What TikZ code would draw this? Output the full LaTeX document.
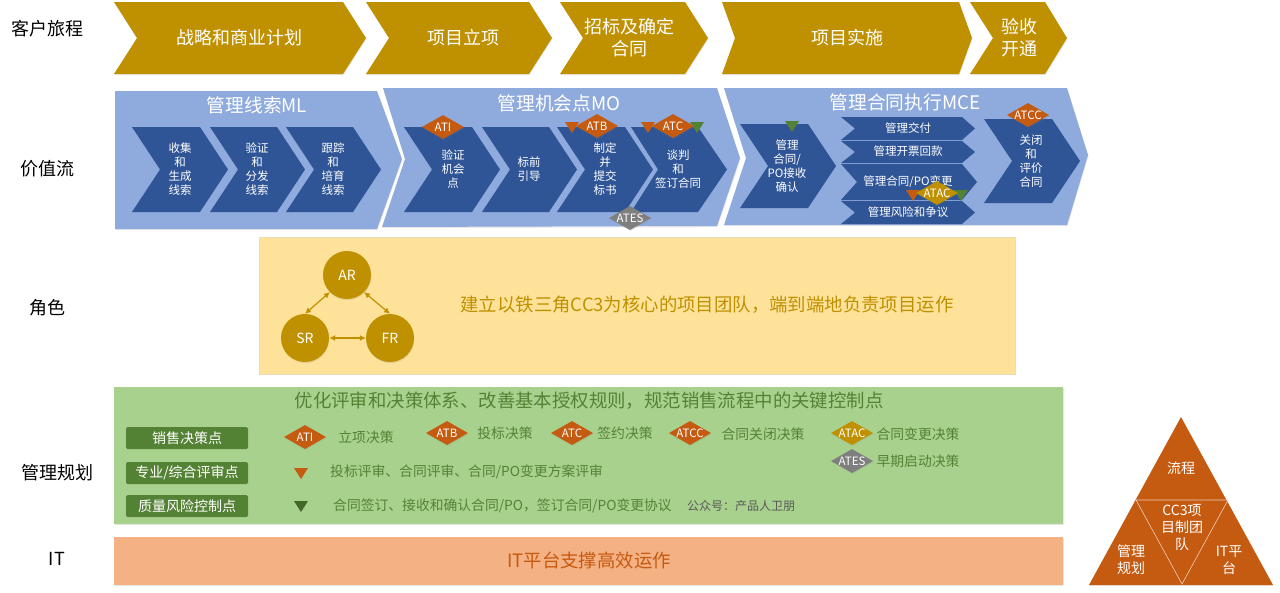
\documentclass[tikz,border=0pt]{standalone}
\usepackage{fontspec}
\setmainfont{Noto Sans CJK SC}
\usetikzlibrary{shapes.geometric,shadows,arrows.meta}

\definecolor{goldc}{HTML}{BF9000}
\definecolor{bannerc}{HTML}{8FAADC}
\definecolor{bluec}{HTML}{2F5597}
\definecolor{orangec}{HTML}{C55A11}
\definecolor{greenc}{HTML}{548235}
\definecolor{grayc}{HTML}{7F7F7F}
\definecolor{rolec}{HTML}{FFE299}
\definecolor{rolelinec}{HTML}{E8DDB8}
\definecolor{mgmtc}{HTML}{A9D18E}
\definecolor{itc}{HTML}{F4B183}

% left, right, top, bottom, depth of the point, notch
\newcommand{\chev}[7]{\fill[#1] (#2,#4) -- (#3-#6,#4) -- (#3,{(#4+#5)/2}) -- (#3-#6,#5) -- (#2,#5) -- (#2+#7,{(#4+#5)/2}) -- cycle;}
\newcommand{\downtri}[3]{\fill[#1] (#2-7,#3) -- (#2+7,#3) -- (#2,#3+11) -- cycle;}

\begin{document}
\begin{tikzpicture}[x=1pt,y=-1pt,
    softshadow/.style={drop shadow={opacity=.18,shadow xshift=.5pt,shadow yshift=-1.2pt}},
    rowlabel/.style={font=\fontsize{18}{22}\selectfont,text=black},
    bigtext/.style={font=\fontsize{18}{22}\selectfont,text=white,align=center},
    bannertext/.style={font=\fontsize{18.7}{22}\selectfont,text=white,align=center},
    smalltext/.style={font=\fontsize{11.5}{14}\selectfont,text=white,align=center,inner sep=0pt},
    gate/.style={diamond,inner sep=0pt,minimum width=42pt,minimum height=24pt,text=white,font=\fontsize{11.5}{14}\selectfont,softshadow},
    role/.style={circle,fill=goldc,minimum size=48pt,inner sep=0pt,text=white,font=\fontsize{14}{16}\selectfont,softshadow},
    legendbox/.style={rectangle,rounded corners=1.5pt,fill=greenc,minimum width=122pt,minimum height=22pt,inner sep=0pt,text=white,font=\fontsize{14}{16}\selectfont},
    legendtext/.style={text=greenc,font=\fontsize{13.8}{16}\selectfont,inner sep=0pt},
    headline/.style={font=\fontsize{18.4}{22}\selectfont},
    pyramidtext/.style={font=\fontsize{14}{17}\selectfont,text=white,align=center},
    rolearrow/.style={goldc,line width=1.2pt,{Latex[length=6pt,width=6pt]}-{Latex[length=6pt,width=6pt]}}]
  \useasboundingbox (0,0) rectangle (1280,592);

  % row labels
  \node[rowlabel] (journey) at (47,29) {客户旅程};
  \node[rowlabel] (stream) at (47,169) {价值流};
  \node[rowlabel] (roles) at (47,308) {角色};
  \node[rowlabel] (mgmt) at (57,473) {管理规划};
  \node[rowlabel] (itlabel) at (57,559) {IT};

  % customer journey
  \chev{goldc,softshadow}{114}{366}{2}{74}{23}{23}
  \chev{goldc,softshadow}{366}{552}{2}{74}{23}{23}
  \chev{goldc,softshadow}{560}{708}{2}{74}{23}{23}
  \chev{goldc,softshadow}{722}{972}{2}{74}{13}{13}
  \chev{goldc,softshadow}{970}{1067}{2}{74}{22}{23}
  \node[bigtext] (plan) at (239,38) {战略和商业计划};
  \node[bigtext] (setup) at (463,38) {项目立项};
  \node[bigtext] (bid) at (629,38) {招标及确定\\合同};
  \node[bigtext] (run) at (847,38) {项目实施};
  \node[bigtext] (accept) at (1019,38) {验收\\开通};

  % value stream banners
  \fill[bannerc,softshadow] (115,91) -- (377,91) -- (402,159) -- (377,229) -- (115,229) -- cycle;
  \fill[bannerc,softshadow] (383,88) -- (717,88) -- (740,158) -- (717,226) -- (382,227) -- (405,159) -- cycle;
  \fill[bannerc,softshadow] (724,88) -- (1067,88) -- (1088,155) -- (1067,225) -- (724,225) -- (746,158) -- cycle;
  \node[bannertext] (ml) at (257,105) {管理线索ML};
  \node[bannertext] (mo) at (559,103) {管理机会点MO};
  \node[bannertext] (mce) at (905,102) {管理合同执行MCE};

  % manage leads
  \chev{bluec}{132}{228}{127}{212}{28}{28}
  \chev{bluec}{210}{305}{127}{212}{28}{28}
  \chev{bluec}{286}{381}{127}{212}{28}{28}
  \node[smalltext] (ml1) at (180,169) {收集\\和\\生成\\线索};
  \node[smalltext] (ml2) at (257,169) {验证\\和\\分发\\线索};
  \node[smalltext] (ml3) at (333,169) {跟踪\\和\\培育\\线索};

  % manage opportunities
  \chev{bluec}{404}{500}{127}{212}{28}{28}
  \chev{bluec}{482}{577}{127}{212}{28}{28}
  \chev{bluec}{557}{653}{127}{212}{28}{28}
  \chev{bluec}{631}{727}{127}{212}{29}{27}
  \node[smalltext] (mo1) at (453,169) {验证\\机会\\点};
  \node[smalltext] (mo2) at (529,169) {标前\\引导};
  \node[smalltext] (mo3) at (605,169) {制定\\并\\提交\\标书};
  \node[smalltext] (mo4) at (678,169) {谈判\\和\\签订合同};

  % manage contract execution
  \chev{bluec}{740}{836}{124}{208}{28}{28}
  \chev{bluec}{841}{975}{117}{140}{13}{14}
  \chev{bluec}{841}{975}{141}{163}{13}{14}
  \chev{bluec}{841}{977}{164}{200}{15}{16}
  \chev{bluec}{841}{975}{201}{224}{13}{14}
  \chev{bluec}{984}{1080}{119}{203}{28}{28}
  \node[smalltext] (mce1) at (787,166) {管理\\合同/\\PO接收\\确认};
  \node[smalltext] (mce2) at (908,128) {管理交付};
  \node[smalltext] (mce3) at (908,151) {管理开票回款};
  \node[smalltext] (mce4) at (908,182) {管理合同/PO变更};
  \node[smalltext] (mce5) at (908,212) {管理风险和争议};
  \node[smalltext] (mce6) at (1031,161) {关闭\\和\\评价\\合同};

  % decision points on the stream
  \downtri{orangec}{572}{122}
  \downtri{orangec}{648}{122}
  \downtri{greenc}{697}{122}
  \downtri{greenc}{792}{121}
  \downtri{orangec}{913}{190}
  \downtri{greenc}{961}{190}
  \node[gate,fill=orangec] (ati) at (443,127) {\makebox[0pt]{ATI}};
  \node[gate,fill=orangec] (atb) at (597,126) {\makebox[0pt]{ATB}};
  \node[gate,fill=orangec] (atc) at (673,126) {\makebox[0pt]{ATC}};
  \node[gate,fill=grayc] (ates) at (630,218) {\makebox[0pt]{ATES}};
  \node[gate,fill=orangec] (atcc) at (1028,115) {\makebox[0pt]{ATCC}};
  \node[gate,fill=goldc] (atac) at (937,193) {\makebox[0pt]{ATAC}};

  % roles
  \draw[draw=rolelinec,fill=rolec] (259,237) rectangle (1015,374);
  \node[role] (ar) at (347,275) {AR};
  \node[role] (sr) at (305,338) {SR};
  \node[role] (fr) at (390,338) {FR};
  \draw[rolearrow] (ar.225) -- (sr.north);
  \draw[rolearrow] (ar.-45) -- (fr.north);
  \draw[rolearrow] (sr) -- (fr);
  \node[headline,text=goldc] (team) at (707,305) {建立以铁三角CC3为核心的项目团队，端到端地负责项目运作};

  % management planning
  \fill[mgmtc,softshadow] (114,387) rectangle (1063,524);
  \node[headline,text=greenc] (mgmttitle) at (589,401) {优化评审和决策体系、改善基本授权规则，规范销售流程中的关键控制点};
  \node[legendbox] (key1) at (187,438) {销售决策点};
  \node[legendbox] (key2) at (187,473) {专业/综合评审点};
  \node[legendbox] (key3) at (187,506) {质量风险控制点};
  \node[gate,fill=orangec] (lati) at (305,437) {\makebox[0pt]{ATI}};
  \node[gate,fill=orangec] (latb) at (447,433) {\makebox[0pt]{ATB}};
  \node[gate,fill=orangec] (latc) at (572,433) {\makebox[0pt]{ATC}};
  \node[gate,fill=orangec] (latcc) at (690,433) {\makebox[0pt]{ATCC}};
  \node[gate,fill=goldc] (latac) at (852,433) {\makebox[0pt]{ATAC}};
  \node[gate,fill=grayc] (lates) at (852,461) {\makebox[0pt]{ATES}};
  \node[legendtext] (t1) at (366,437) {立项决策};
  \node[legendtext] (t2) at (505,433) {投标决策};
  \node[legendtext] (t3) at (625,433) {签约决策};
  \node[legendtext] (t4) at (763,434) {合同关闭决策};
  \node[legendtext] (t5) at (918,434) {合同变更决策};
  \node[legendtext] (t6) at (918,461) {早期启动决策};
  \downtri{orangec}{301}{468}
  \downtri{greenc!80!black}{301}{501}
  \node[legendtext,anchor=west] (t7) at (330,472) {投标评审、合同评审、合同/PO变更方案评审};
  \node[legendtext,anchor=west] (t8) at (333,506) {合同签订、接收和确认合同/PO，签订合同/PO变更协议};
  \node[text=grayc!70!black,font=\fontsize{12}{14}\selectfont,anchor=west,inner sep=0pt] (wechat) at (687,506) {公众号：产品人卫朋};

  % it
  \fill[itc,softshadow] (114,537) rectangle (1063,585);
  \node[headline,text=orangec] (itbar) at (589,560) {IT平台支撑高效运作};

  % pyramid
  \fill[orangec,softshadow] (1181,417) -- (1273,585) -- (1089,585) -- cycle;
  \draw[white!70!orangec,line width=.6pt] (1136,500) -- (1228,500) -- (1182,584) -- cycle;
  \node[pyramidtext] (flow) at (1181,468) {流程};
  \node[pyramidtext] (cc3) at (1182,527) {CC3项\\目制团\\队};
  \node[pyramidtext] (plan2) at (1131,560) {管理\\规划};
  \node[pyramidtext] (itplat) at (1229,560) {IT平\\台};
\end{tikzpicture}
\end{document}
